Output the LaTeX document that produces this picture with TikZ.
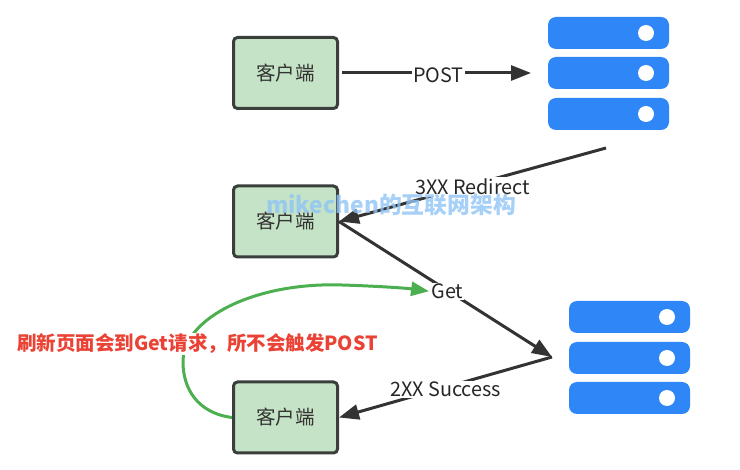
\documentclass[tikz,border=0pt]{standalone}
\usepackage{fontspec}
\setmainfont{Noto Sans CJK SC}
\usetikzlibrary{arrows.meta}
\definecolor{boxfill}{HTML}{C5E3C6}
\definecolor{boxline}{HTML}{3A3F3C}
\definecolor{barblue}{HTML}{2E86F7}
\definecolor{linegray}{HTML}{333333}
\definecolor{curvegreen}{HTML}{4CAF50}
\definecolor{notered}{HTML}{EA4335}
\definecolor{markblue}{HTML}{90C4F5}
\begin{document}
\begin{tikzpicture}[x=1pt,y=-1pt,
        client/.style={draw=boxline,fill=boxfill,line width=3pt,rounded corners=4pt,
            minimum width=104pt,minimum height=71pt,inner sep=0pt,font=\fontsize{19.5pt}{22pt}\selectfont,text=black!80},
        bar/.style={fill=barblue,rounded corners=8pt,minimum width=121pt,minimum height=32pt,inner sep=0pt},
        dot/.style={circle,fill=white,minimum size=16pt,inner sep=0pt},
        link/.style={draw=linegray,line width=3pt,-{Triangle[length=20pt,width=15pt]}},
        tag/.style={fill=white,inner sep=1pt,font=\fontsize{19.8pt}{22pt}\selectfont,text=black!85}
    ]
    \useasboundingbox (0,0) rectangle (740,470);
    % clients
    \node [client] (clientA) at (285.5,73) {客户端};
    \node [client] (clientB) at (285.5,221.5) {客户端};
    \node [client] (clientC) at (285.5,417.5) {客户端};
    % servers
    \foreach \name/\y in {a/33,b/73,c/114} {
        \node [bar] (top\name) at (608.5,\y) {};
        \node [dot] at (646,\y) {};
    }
    \foreach \name/\y in {a/317,b/358,c/398} {
        \node [bar] (low\name) at (629.5,\y) {};
        \node [dot] at (667,\y) {};
    }
    \coordinate (postEnd) at (531,73);
    \coordinate (redirectStart) at (606,148);
    \coordinate (lowTip) at (552,357);
    % connectors
    \draw [link] ([xshift=3pt]clientA.east) -- (postEnd) node [tag,midway,xshift=2pt,yshift=-2pt] (postTag) {POST};
    \draw [link] (redirectStart) -- (clientB.east) node [tag,pos=0.5,inner sep=2pt,yshift=-2pt] (redirectTag) {3XX Redirect};
    \draw [link] (clientB.east) -- (lowTip) node [tag,pos=0.5,xshift=2pt,yshift=-2pt] (getTag) {Get};
    \draw [link] (lowTip) -- (clientC.east) node [tag,pos=0.5,yshift=-2pt] (successTag) {2XX Success};
    % green curve
    \draw [draw=curvegreen,line width=3pt,-{Triangle[length=18pt,width=14pt]}] (clientC.west)
        .. controls (197,413) and (183,388) .. (183,362)
        .. controls (183,318) and (255,282) .. (342,285)
        .. controls (375,286) and (405,288) .. (getTag.west);
    \node [fill=white,inner sep=1pt,text=notered,font=\fontsize{19.5pt}{22pt}\selectfont\bfseries] (noteText) at (197.5,344) {刷新页面会到Get请求，所不会触发POST};
    \node [text=markblue,opacity=0.8,font=\fontsize{22.8pt}{24pt}\selectfont\bfseries] (markText) at (391,205) {mikechen的互联网架构};
\end{tikzpicture}
\end{document}
